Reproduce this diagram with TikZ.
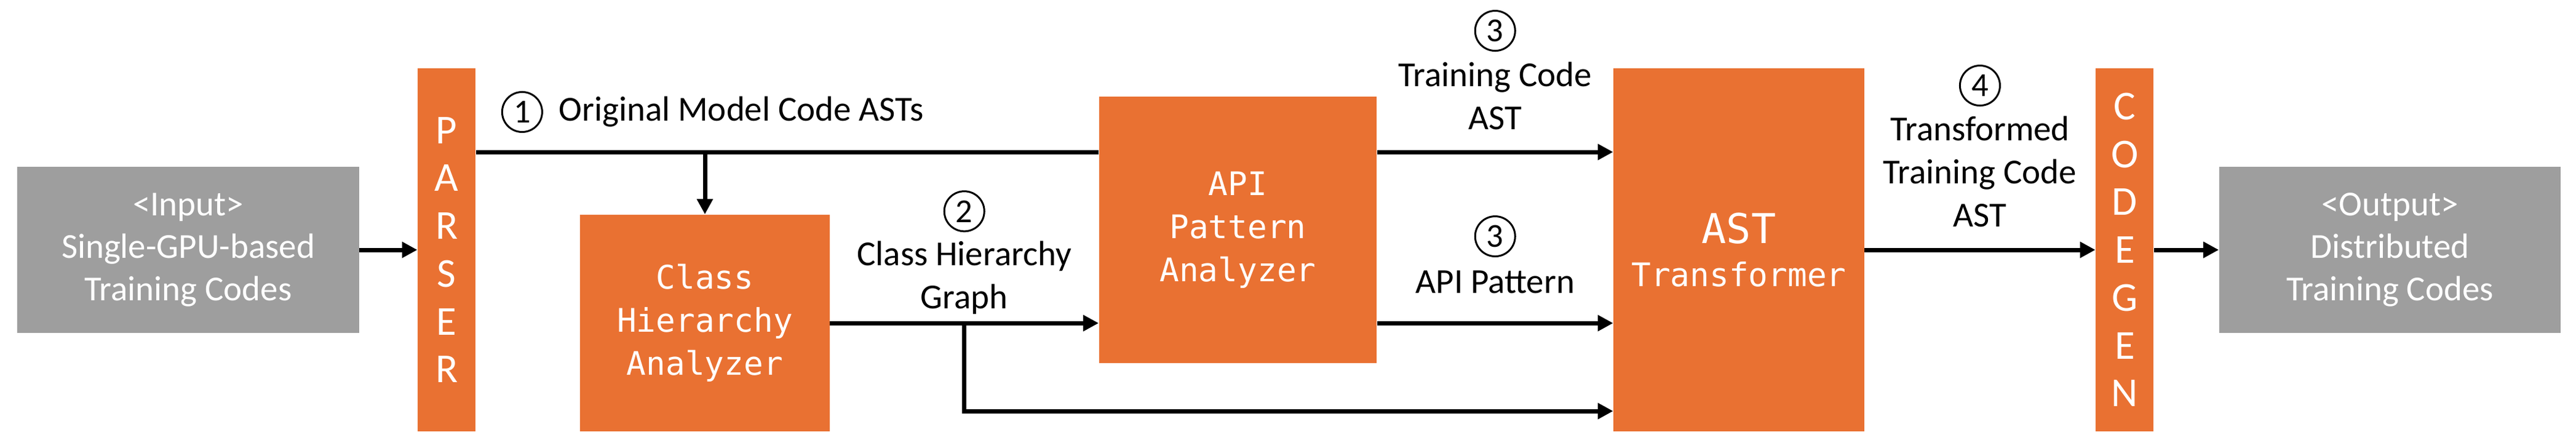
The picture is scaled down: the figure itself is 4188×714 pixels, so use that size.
\documentclass[tikz,border=0pt]{standalone}
\usepackage{fontspec}
\usetikzlibrary{arrows.meta,positioning}
\newfontfamily\lblfont{Carlito}
\newfontfamily\codefont{DejaVu Sans Mono}
\definecolor{codeorange}{HTML}{E97132}
\definecolor{iogray}{HTML}{9E9E9E}

\begin{document}
\begin{tikzpicture}[x=0.01cm, y=-0.01cm,
        stage/.style={rectangle, fill=codeorange, text=white, inner sep=0pt, align=center, font=\codefont\fontsize{15}{19.9}\selectfont},
        bar/.style={rectangle, fill=codeorange, text=white, inner sep=0pt, align=center, minimum width=0.94cm, minimum height=5.9cm, font=\lblfont\fontsize{19}{22.1}\selectfont},
        io/.style={rectangle, fill=iogray, text=white, inner sep=0pt, align=center, minimum width=5.55cm, minimum height=2.7cm, font=\lblfont\fontsize{16.2}{19.7}\selectfont},
        lbl/.style={inner sep=0pt, align=center, font=\lblfont\fontsize{16.2}{19.9}\selectfont},
        num/.style={circle, draw, line width=0.03cm, minimum size=0.65cm, inner sep=0pt, font=\lblfont\fontsize{15.5}{15.5}\selectfont},
        wire/.style={line width=0.07cm},
        arrow/.style={-{Triangle[length=0.25cm, width=0.25cm]}, line width=0.07cm}]

    \useasboundingbox (0,0) rectangle (4188,714);

    \node[io] (input) at (306,406) {<Input>\\Single-GPU-based\\Training Codes};
    \node[bar, right of=input, node distance=4.2cm] (parser) {P\\A\\R\\S\\E\\R};
    \node[stage, minimum width=4.05cm, minimum height=3.52cm, right of=parser, node distance=4.195cm, yshift=-1.19cm] (cha) {Class\\Hierarchy\\Analyzer};
    \node[stage, minimum width=4.51cm, minimum height=4.33cm, right of=cha, node distance=8.66cm, yshift=1.515cm] (apa) {API\\Pattern\\Analyzer};
    \node[stage, minimum width=4.07cm, minimum height=5.9cm, right of=apa, node distance=8.14cm, yshift=-0.325cm] (astt) {{\fontsize{19}{19.9}\selectfont AST}\\Transformer};
    \node[bar, right of=astt, node distance=6.27cm] (codegen) {C\\O\\D\\E\\G\\E\\N};
    \node[io, right of=codegen, node distance=4.31cm] (output) {<Output>\\Distributed\\Training Codes};

    \coordinate (topline) at (0,247);
    \coordinate (low) at (0,668);

    \draw[arrow] (input) -- (parser);
    \draw[wire] (parser.east |- topline) -- node[num, pos=0.074, above=0.31cm] (c1) {1} (apa.west |- topline);
    \node[lbl, right=0.25cm of c1] (l1) {Original Model Code ASTs};
    \draw[arrow] (cha.north |- topline) -- (cha.north);
    \draw[arrow] (cha.east) -- coordinate[pos=0.5] (branch) node[lbl, above=0.11cm] (l2) {Class Hierarchy\\Graph} (apa.west |- cha.east);
    \node[num, above=0.11cm of l2] (c2) {2};
    \draw[arrow] (branch) |- (astt.west |- low);
    \draw[arrow] (apa.east |- topline) -- node[lbl, above=0.33cm] (l3a) {Training Code\\AST} (astt.west |- topline);
    \node[num, above=0.13cm of l3a] (c3a) {3};
    \draw[arrow] (apa.east |- cha.east) -- node[lbl, above=0.45cm] (l3b) {API Pattern} (astt.west |- cha.east);
    \node[num, above=0.18cm of l3b] (c3b) {3};
    \draw[arrow] (astt.east) -- node[lbl, above=0.34cm] (l4) {Transformed\\Training Code\\AST} (codegen.west);
    \node[num, above=0.12cm of l4] (c4) {4};
    \draw[arrow] (codegen) -- (output);
\end{tikzpicture}
\end{document}
